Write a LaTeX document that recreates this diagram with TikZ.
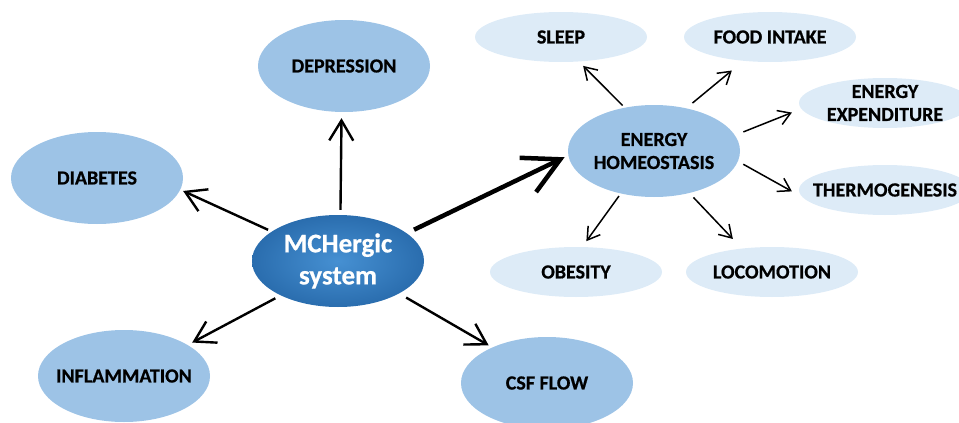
\documentclass[tikz,border=0pt]{standalone}
\usepackage{fontspec}
\setmainfont{Carlito}[BoldFeatures={FakeBold=0.6}]
\usetikzlibrary{arrows.meta,shapes.geometric}
\definecolor{medblue}{HTML}{9DC3E6}
\definecolor{paleblue}{HTML}{DDEBF7}
\definecolor{darkblue}{HTML}{2A6DAE}
\definecolor{midblue}{HTML}{4690D2}
\tikzset{
  bigell/.style={ellipse, fill=medblue, minimum width=172pt, minimum height=92pt, inner sep=0pt},
  smallell/.style={ellipse, fill=paleblue, minimum width=172pt, minimum height=50pt, inner sep=0pt},
  hubell/.style={ellipse, shading=radial, inner color=midblue, outer color=darkblue,
    minimum width=172pt, minimum height=92pt, inner sep=0pt},
  lbl/.style={inner sep=0pt, font=\bfseries\fontsize{20}{23}\selectfont, align=center, text=black},
  hublbl/.style={inner sep=0pt, font=\bfseries\fontsize{27}{32}\selectfont, align=center, text=white},
  mainarrow/.style={line width=2.4pt, -{Straight Barb[length=20pt,width=24pt]}},
  smallarrow/.style={line width=1.5pt, -{Straight Barb[length=12pt,width=15pt]}},
  thickarrow/.style={line width=4.5pt, -{Straight Barb[length=36pt,width=38pt]}}
}
\begin{document}
\begin{tikzpicture}[x=1pt,y=-1pt]
\useasboundingbox (0,0) rectangle (959,423);
\clip (0,0) rectangle (959,423);
\node[hubell] (m) at (338,261) {};
\node[bigell] (dep) at (344,66) {};
\node[bigell] (dia) at (97,178) {};
\node[bigell] (inf) at (124,376) {};
\node[bigell] (csf) at (547,383) {};
\node[bigell] (eh) at (654,151) {};
\node[smallell] (sl) at (561,37) {};
\node[smallell] (fi) at (770,37) {};
\node[smallell] (ee) at (885,103) {};
\node[smallell] (th) at (885,190) {};
\node[smallell] (ob) at (576,272) {};
\node[smallell] (lo) at (772,272) {};

\node[hublbl] (mL) at (m.center) {MCHergic\\system};
\node[lbl] (depL) at (dep.center) {DEPRESSION};
\node[lbl] (diaL) at (dia.center) {DIABETES};
\node[lbl] (infL) at (inf.center) {INFLAMMATION};
\node[lbl] (csfL) at (csf.center) {CSF FLOW};
\node[lbl] (ehL) at (eh.center) {ENERGY\\HOMEOSTASIS};
\node[lbl] (slL) at (sl.center) {SLEEP};
\node[lbl] (fiL) at (fi.center) {FOOD INTAKE};
\node[lbl] (eeL) at (ee.center) {ENERGY\\EXPENDITURE};
\node[lbl] (thL) at (th.center) {THERMOGENESIS};
\node[lbl] (obL) at (ob.center) {OBESITY};
\node[lbl] (loL) at (lo.center) {LOCOMOTION};

\draw[mainarrow, shorten <=5pt, shorten >=6pt] (m.87) -- (dep.-93);
\draw[mainarrow, shorten <=4pt, shorten >=3pt] (m.156) -- (dia.-8);
\draw[mainarrow, shorten <=6pt, shorten >=5pt] (m.211) -- (inf.26);
\draw[mainarrow, shorten <=8pt, shorten >=4pt] (m.-28) -- (csf.147);
\draw[thickarrow, shorten <=8pt, shorten >=4pt] (m.22) -- (eh.183);

\draw[smallarrow, shorten <=3pt, shorten >=6pt] (eh.124) -- (sl.-54);
\draw[smallarrow, shorten <=8pt, shorten >=15pt] (eh.53.5) -- (fi.222);
\draw[smallarrow, shorten <=9pt, shorten >=10pt] (eh.11) -- (ee.184);
\draw[smallarrow, shorten <=6pt, shorten >=12pt] (eh.-7) -- (th.185);
\draw[smallarrow, shorten <=3pt, shorten >=7pt] (eh.232) -- (ob.76);
\draw[smallarrow, shorten <=6pt, shorten >=13pt] (eh.-50) -- (lo.142);
\end{tikzpicture}
\end{document}
